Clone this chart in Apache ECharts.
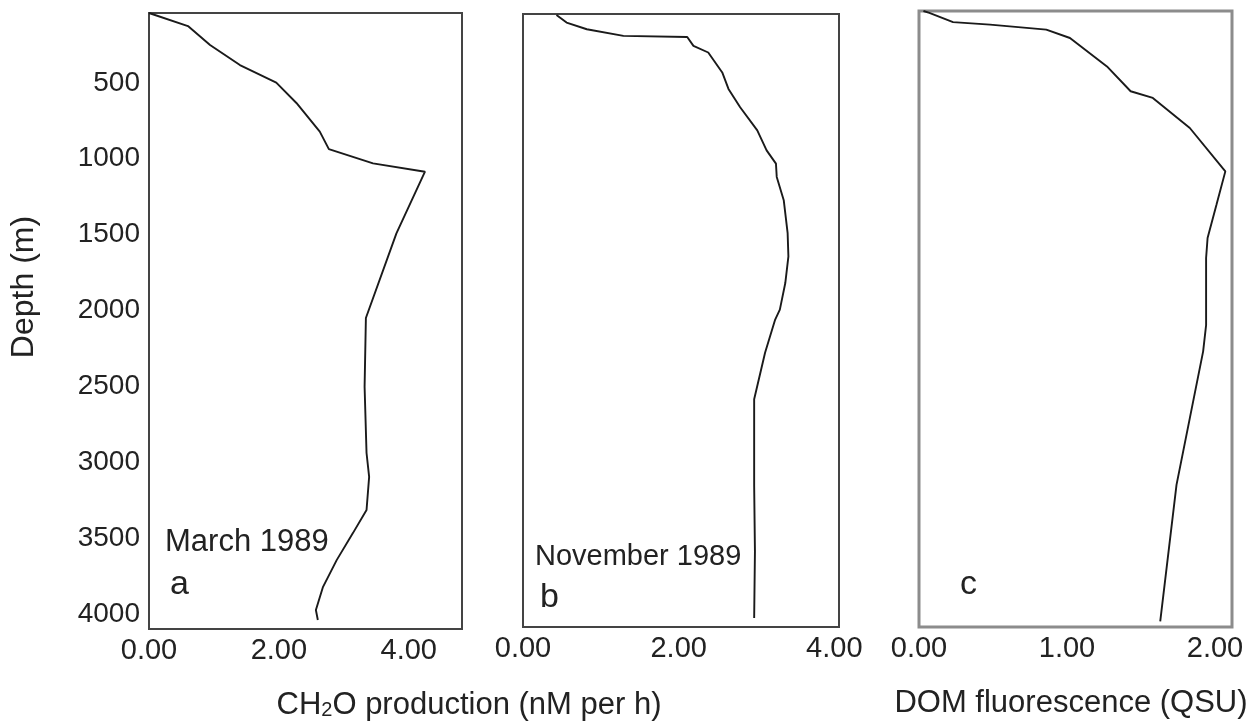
<!DOCTYPE html>
<html>
<head>
<meta charset="utf-8">
<style>
  html, body { margin: 0; padding: 0; background: #fff; }
  #chart { width: 1258px; height: 723px; }
</style>
<script src="https://cdn.jsdelivr.net/npm/echarts@6/dist/echarts.min.js"></script>
</head>
<body>
<div id="chart"></div>
<script>
// --- data (depth in m) ---
var depthA = [40, 126, 251, 383, 499, 633, 822, 937, 1031, 1086, 1492, 2050, 2503, 2940, 3097, 3316, 3468, 3646, 3822, 3975, 4041];
var prodMarch = [0.00, 0.60, 0.94, 1.40, 1.96, 2.27, 2.63, 2.77, 3.45, 4.25, 3.81, 3.34, 3.32, 3.35, 3.39, 3.35, 3.14, 2.89, 2.68, 2.57, 2.60];

var depthB = [47, 97, 141, 185, 192, 251, 295, 427, 536, 658, 811, 943, 1031, 1119, 1273, 1492, 1646, 1822, 1998, 2064, 2283, 2591, 3163, 3600, 4041];
var prodNov = [0.43, 0.56, 0.82, 1.29, 2.11, 2.19, 2.38, 2.56, 2.64, 2.79, 3.01, 3.13, 3.25, 3.26, 3.35, 3.40, 3.41, 3.37, 3.30, 3.24, 3.11, 2.97, 2.97, 2.98, 2.97];

var depthC = [40, 53, 113, 130, 163, 218, 405, 569, 613, 811, 1097, 1317, 1536, 1668, 2110, 2283, 2723, 3163, 4063];
var domFluor = [0.03, 0.07, 0.23, 0.48, 0.86, 1.02, 1.27, 1.43, 1.58, 1.83, 2.07, 2.01, 1.95, 1.94, 1.94, 1.92, 1.83, 1.74, 1.63];

var depthTicks = [500, 1000, 1500, 2000, 2500, 3000, 3500, 4000];
var prodTicks = [0, 2, 4];
var domTicks = [0, 1, 2];

var font = '"Liberation Sans", Arial, Helvetica, sans-serif';
var ink = '#222';

function pairs(xs, ys) {
  return xs.map(function(x, i) { return [x, ys[i]]; });
}

function xAx(grid, max, ticks) {
  return {
    type: 'value', gridIndex: grid, min: 0, max: max,
    axisLine: { show: false }, axisTick: { show: false }, splitLine: { show: false },
    axisLabel: {
      customValues: ticks, margin: 7, color: ink, fontSize: 29, fontFamily: font,
      formatter: function(v) { return v.toFixed(2); }
    }
  };
}

function yAx(grid, showLabels) {
  return {
    type: 'value', gridIndex: grid, inverse: true, min: 40, max: 4100,
    axisLine: { show: false }, axisTick: { show: false }, splitLine: { show: false },
    axisLabel: {
      show: showLabels, customValues: depthTicks, margin: 9,
      color: ink, fontSize: 28, fontFamily: font,
      formatter: function(v) { return String(v); }
    }
  };
}

function line(i, data) {
  return {
    type: 'line', xAxisIndex: i, yAxisIndex: i, data: data,
    showSymbol: false, symbol: 'none',
    lineStyle: { color: '#1a1a1a', width: 1.9 }
  };
}

function label(x, y, text, size) {
  return {
    type: 'text', left: x, top: y - size / 2,
    style: { text: text, fill: ink, font: size + 'px ' + font }
  };
}

var chart = echarts.init(document.getElementById('chart'), null, { renderer: 'canvas' });
chart.setOption({
  animation: false,
  backgroundColor: '#fff',
  grid: [
    { left: 149, top: 13, width: 313, height: 616, show: true, borderColor: '#444', borderWidth: 2 },
    { left: 523, top: 14, width: 316, height: 613, show: true, borderColor: '#444', borderWidth: 2 },
    { left: 919, top: 11, width: 313, height: 616, show: true, borderColor: '#8c8c8c', borderWidth: 3 }
  ],
  xAxis: [xAx(0, 4.82, prodTicks), xAx(1, 4.06, prodTicks), xAx(2, 2.115, domTicks)],
  yAxis: [yAx(0, true), yAx(1, false), yAx(2, false)],
  series: [
    line(0, pairs(prodMarch, depthA)),
    line(1, pairs(prodNov, depthB)),
    line(2, pairs(domFluor, depthC))
  ],
  graphic: [
    {
      type: 'text', x: 24, y: 287, rotation: Math.PI / 2,
      style: { text: 'Depth (m)', fill: ink, font: '32px ' + font, align: 'center', verticalAlign: 'middle' }
    },
    {
      type: 'text', x: 469, y: 705,
      style: {
        text: '{n|CH}{s|2}{n|O production (nM per h)}',
        align: 'center', verticalAlign: 'middle', fill: ink,
        rich: {
          n: { fontSize: 31, fontFamily: font, fill: ink, verticalAlign: 'bottom' },
          s: { fontSize: 20, fontFamily: font, fill: ink, verticalAlign: 'bottom' }
        }
      }
    },
    {
      type: 'text', x: 1071, y: 703,
      style: { text: 'DOM fluorescence (QSU)', fill: ink, font: '31px ' + font, align: 'center', verticalAlign: 'middle' }
    },
    label(165, 542, 'March 1989', 31),
    label(170, 585, 'a', 34),
    label(535, 557, 'November 1989', 29),
    label(540, 598, 'b', 34),
    label(960, 585, 'c', 34)
  ]
});
window.addEventListener('resize', function() { chart.resize(); });
</script>
</body>
</html>
